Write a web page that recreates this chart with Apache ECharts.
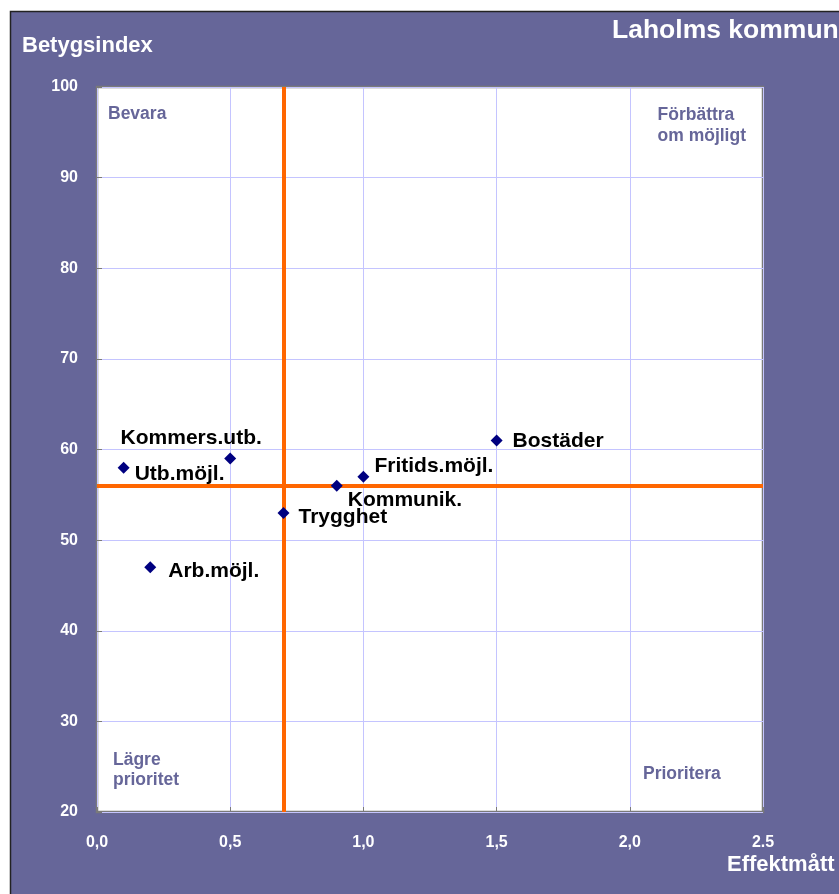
<!DOCTYPE html>
<html><head><meta charset="utf-8">
<script src="https://cdn.jsdelivr.net/npm/echarts@6/dist/echarts.min.js"></script>
<style>html,body{margin:0;padding:0;background:#fff}#c{width:839px;height:894px}</style>
</head><body><div id="c"></div>
<script>
const names = ["Utb.möjl.","Kommers.utb.","Arb.möjl.","Trygghet","Kommunik.","Fritids.möjl.","Bostäder"];
const effekt = [0.1, 0.5, 0.2, 0.7, 0.9, 1.0, 1.5];
const betyg = [58, 59, 47, 53, 56, 57, 61];
const xTickLabels = {0:"0,0",0.5:"0,5",1:"1,0",1.5:"1,5",2:"2,0",2.5:"2.5"};
const refX = 0.7, refY = 56;
const labelPos = ['right','top','right','right','right','right','right'];
const labelOffsets = [[0,7],[-39,1],[7,4],[4,4],[0,14],[0,-10],[5,1]];

const purple = "#666699";
const F = "'Liberation Sans', Arial, sans-serif";
const chart = echarts.init(document.getElementById('c'), null, {renderer:'canvas'});
const data = names.map((n,i)=>({
  value:[effekt[i], betyg[i]], name:n,
  label:{show:true, position:labelPos[i], offset:labelOffsets[i], formatter:n}
}));
chart.setOption({
  backgroundColor:'#ffffff',
  animation:false,
  graphic:[
    {type:'rect', z:-10, shape:{x:10.5,y:11.5,width:840,height:900}, style:{fill:purple, stroke:'#222', lineWidth:1.5}},
    {type:'text', left:22, top:35, style:{text:'Betygsindex', fill:'#fff', font:'bold 22px '+F}},
    {type:'text', left:612, top:17, style:{text:'Laholms kommun', fill:'#fff', font:'bold 26.5px '+F}},
    {type:'text', left:727, top:854, style:{text:'Effektmått', fill:'#fff', font:'bold 22px '+F}},
    {type:'text', left:108, top:105, z:50, style:{text:'Bevara', fill:purple, font:'bold 17.5px '+F}},
    {type:'text', right:93, top:105, z:50, style:{text:'Förbättra\nom möjligt', fill:purple, font:'bold 17.5px '+F, align:'right', lineHeight:21}},
    {type:'text', left:113, top:750, z:50, style:{text:'Lägre\nprioritet', fill:purple, font:'bold 17.5px '+F, lineHeight:20}},
    {type:'text', left:643, top:765, z:50, style:{text:'Prioritera', fill:purple, font:'bold 17.5px '+F}}
  ],
  grid:{left:97, top:87, right:76, bottom:82, show:true, backgroundColor:'#fff', borderColor:'#7a7a7a', borderWidth:2.5},
  xAxis:{type:'value', min:0, max:2.5, interval:0.5,
    axisLine:{show:false}, axisTick:{show:true, inside:true, length:5, lineStyle:{color:'#7a7a7a'}},
    splitLine:{show:true, lineStyle:{color:'#c4c4ff', width:1}},
    axisLabel:{color:'#fff', fontWeight:'bold', fontSize:16, fontFamily:F, margin:23,
      formatter:v=>xTickLabels[Math.round(v*10)/10] ?? ''}},
  yAxis:{type:'value', min:20, max:100, interval:10,
    axisLine:{show:false}, axisTick:{show:true, inside:true, length:5, lineStyle:{color:'#7a7a7a'}},
    splitLine:{show:true, lineStyle:{color:'#c4c4ff', width:1}},
    axisLabel:{color:'#fff', fontWeight:'bold', fontSize:16, fontFamily:F, margin:19}},
  series:[{
    type:'scatter', symbol:'diamond', symbolSize:12, z:10,
    itemStyle:{color:'#000080', opacity:1},
    label:{color:'#000', fontWeight:'bold', fontSize:21, fontFamily:F},
    data:data,
    markLine:{silent:true, symbol:'none', z:5, label:{show:false},
      lineStyle:{color:'#ff6600', width:4, type:'solid', opacity:1},
      data:[{xAxis:refX},{yAxis:refY}]}
  }]
});
</script></body></html>
